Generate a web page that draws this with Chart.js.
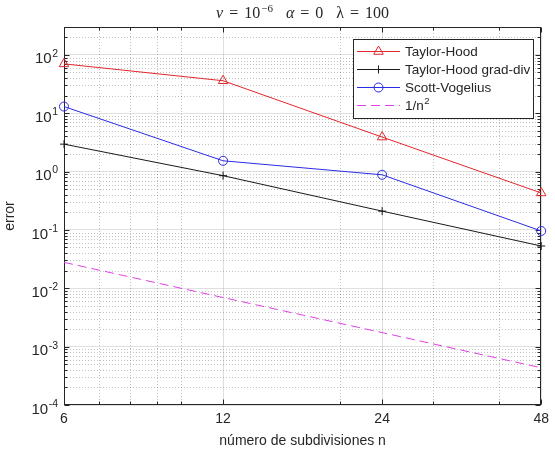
<!DOCTYPE html>
<html>
<head>
<meta charset="utf-8">
<script src="https://cdn.jsdelivr.net/npm/chart.js@4.4.1/dist/chart.umd.min.js"></script>
<style>
  html, body { margin: 0; padding: 0; background: #fff; }
  #wrap { width: 555px; height: 456px; }
</style>
</head>
<body>
<div id="wrap"><canvas id="myChart" width="555" height="456"></canvas></div>
<script>
// datos del gráfico
const subdivisiones = [6, 12, 24, 48];
const taylorHood = [70, 36, 3.9, 0.43];
const taylorHoodGradDiv = [2.95, 0.85, 0.21, 0.053];
const scottVogelius = [13, 1.53, 0.88, 0.096];
const referencia = [0.0278, 0.00694, 0.00174, 0.000434]; // 1/n^2

// marcas de los ejes
const xTicks = [6, 12, 24, 48];
const xMinor = [7, 8, 9, 10, 20, 30, 40];
const yExp = [-4, -3, -2, -1, 0, 1, 2];
const yMin = 1e-4;
const yMax = 300;

const yTicks = yExp.map((e) => Math.pow(10, e));
const yMinor = [];
yExp.forEach((e) => {
  for (let k = 2; k <= 9; k++) {
    const v = k * Math.pow(10, e);
    if (v < yMax) yMinor.push(v);
  }
});

const FONT = "'Liberation Sans', Arial, sans-serif";
const SERIF = "'Liberation Serif', 'DejaVu Serif', serif";
const AXIS = "#262626";

function pts(ys) {
  return subdivisiones.map((x, i) => ({ x: x, y: ys[i] }));
}

// ejes al estilo MATLAB: rejilla menor, caja, marcas, etiquetas, título y leyenda
const matlabAxes = {
  id: "matlabAxes",
  beforeDatasetsDraw(chart) {
    const { ctx, chartArea: a, scales } = chart;
    const xs = scales.x, ys = scales.y;
    ctx.save();
    // rejilla menor punteada
    ctx.strokeStyle = "rgba(38,38,38,0.28)";
    ctx.lineWidth = 1;
    ctx.setLineDash([1, 2]);
    xMinor.forEach((v) => {
      const px = Math.round(xs.getPixelForValue(v)) + 0.5;
      ctx.beginPath();
      ctx.moveTo(px, a.top);
      ctx.lineTo(px, a.bottom);
      ctx.stroke();
    });
    yMinor.forEach((v) => {
      const py = Math.round(ys.getPixelForValue(v)) + 0.5;
      ctx.beginPath();
      ctx.moveTo(a.left, py);
      ctx.lineTo(a.right, py);
      ctx.stroke();
    });
    ctx.setLineDash([]);

    // caja
    ctx.strokeStyle = AXIS;
    ctx.lineWidth = 1;
    const L = Math.round(a.left) + 0.5, R = Math.round(a.right) - 0.5;
    const T = Math.round(a.top) + 0.5, B = Math.round(a.bottom) - 0.5;
    ctx.strokeRect(L, T, R - L, B - T);

    // marcas hacia dentro
    ctx.beginPath();
    const tick = (list, len) => {
      list.forEach((v) => {
        const px = Math.round(xs.getPixelForValue(v)) + 0.5;
        ctx.moveTo(px, B); ctx.lineTo(px, B - len);
        ctx.moveTo(px, T); ctx.lineTo(px, T + len);
      });
    };
    const tickY = (list, len) => {
      list.forEach((v) => {
        const py = Math.round(ys.getPixelForValue(v)) + 0.5;
        ctx.moveTo(L, py); ctx.lineTo(L + len, py);
        ctx.moveTo(R, py); ctx.lineTo(R - len, py);
      });
    };
    tick(xTicks, 5);
    tick(xMinor, 3);
    tickY(yTicks, 5);
    tickY(yMinor, 3);
    ctx.stroke();
    ctx.restore();
  },
  afterDraw(chart) {
    const { ctx, chartArea: a, scales } = chart;
    const ys = scales.y;
    ctx.save();
    ctx.fillStyle = AXIS;

    // etiquetas del eje y: 10^e
    yExp.forEach((e, i) => {
      const py = ys.getPixelForValue(yTicks[i]);
      const xr = a.left - 6;
      ctx.font = "10.5px " + FONT;
      const expText = String(e);
      const ew = ctx.measureText(expText).width;
      ctx.textBaseline = "middle";
      ctx.textAlign = "left";
      ctx.fillText(expText, xr - ew, py - 1);
      ctx.font = "15px " + FONT;
      ctx.textAlign = "right";
      ctx.fillText("10", xr - ew - 0.5, py + 4.5);
    });

    // título con símbolos (gap = espacio antes de cada pieza)
    const parts = [
      { t: "ν", f: "italic 16px " + SERIF, gap: 0 },
      { t: "=", f: "16px " + SERIF, gap: 6 },
      { t: "10", f: "16px " + SERIF, gap: 6 },
      { t: "−6", f: "11px " + SERIF, gap: 1, sup: true },
      { t: "α", f: "italic 16px " + SERIF, gap: 13 },
      { t: "=", f: "16px " + SERIF, gap: 6 },
      { t: "0", f: "16px " + SERIF, gap: 6 },
      { t: "λ", f: "16px " + SERIF, gap: 13 },
      { t: "=", f: "16px " + SERIF, gap: 6 },
      { t: "100", f: "16px " + SERIF, gap: 6 },
    ];
    let total = 0;
    parts.forEach((p) => { ctx.font = p.f; p.w = ctx.measureText(p.t).width; total += p.w + p.gap; });
    let tx = (a.left + a.right) / 2 - total / 2;
    ctx.textAlign = "left";
    ctx.textBaseline = "alphabetic";
    parts.forEach((p) => {
      ctx.font = p.f;
      tx += p.gap;
      ctx.fillText(p.t, tx, p.sup ? 12 : 18);
      tx += p.w;
    });

    // leyenda
    const box = { x: 353, y: 39, w: 180, h: 79 };
    ctx.fillStyle = "#fff";
    ctx.fillRect(box.x, box.y, box.w, box.h);
    ctx.strokeStyle = AXIS;
    ctx.lineWidth = 1;
    ctx.strokeRect(box.x + 0.5, box.y + 0.5, box.w, box.h);
    const rowY = [51, 69, 87, 105];
    chart.data.datasets.forEach((ds, i) => {
      const y = rowY[i] + 0.5;
      ctx.strokeStyle = ds.borderColor;
      ctx.lineWidth = 1;
      ctx.setLineDash(ds.borderDash || []);
      ctx.beginPath();
      ctx.moveTo(357, y);
      ctx.lineTo(400, y);
      ctx.stroke();
      ctx.setLineDash([]);
      if (ds.pointRadius > 0) {
        ctx.fillStyle = "rgba(0,0,0,0)";
        Chart.helpers.drawPoint(ctx, {
          pointStyle: ds.pointStyle,
          radius: ds.pointRadius,
          borderWidth: 1,
          rotation: 0,
        }, 378.5, y);
      }
      ctx.fillStyle = AXIS;
      ctx.font = "13.5px " + FONT;
      ctx.textBaseline = "middle";
      ctx.textAlign = "left";
      ctx.fillText(ds.label, 405, y + 1);
      if (ds.supLabel) {
        const w = ctx.measureText(ds.label).width;
        ctx.font = "9.5px " + FONT;
        ctx.fillText(ds.supLabel, 405 + w + 0.5, y - 4);
      }
    });
    ctx.restore();
  },
};

const ctx = document.getElementById("myChart").getContext("2d");
const myChart = new Chart(ctx, {
  type: "line",
  data: {
    datasets: [
      {
        label: "Taylor-Hood",
        data: pts(taylorHood),
        borderColor: "#e3262b",
        pointStyle: "triangle",
        pointRadius: 5.5,
        pointBorderColor: "#e3262b",
        pointBackgroundColor: "rgba(0,0,0,0)",
      },
      {
        label: "Taylor-Hood grad-div",
        data: pts(taylorHoodGradDiv),
        borderColor: "#1a1a1a",
        pointStyle: "cross",
        pointRadius: 4,
        pointBorderColor: "#1a1a1a",
        pointBackgroundColor: "rgba(0,0,0,0)",
      },
      {
        label: "Scott-Vogelius",
        data: pts(scottVogelius),
        borderColor: "#2b2be6",
        pointStyle: "circle",
        pointRadius: 4.5,
        pointBorderColor: "#2b2be6",
        pointBackgroundColor: "rgba(0,0,0,0)",
      },
      {
        label: "1/n",
        supLabel: "2",
        data: pts(referencia),
        borderColor: "#e040e6",
        borderDash: [9, 5],
        pointRadius: 0,
      },
    ],
  },
  options: {
    responsive: false,
    animation: false,
    clip: false,
    layout: { padding: { top: 27, right: 9, left: 0, bottom: 0 } },
    elements: {
      line: { borderWidth: 1, tension: 0, fill: false },
      point: { borderWidth: 1, hoverRadius: 5 },
    },
    plugins: {
      legend: { display: false },
      tooltip: { enabled: false },
    },
    scales: {
      x: {
        type: "logarithmic",
        min: 6,
        max: 48,
        afterBuildTicks: (s) => { s.ticks = xTicks.map((v) => ({ value: v })); },
        afterFit: (s) => { s.height = 51; },
        grid: { color: "rgba(38,38,38,0.14)", drawTicks: false },
        border: { display: false },
        ticks: {
          color: AXIS,
          font: { family: FONT, size: 14 },
          padding: 6,
          maxRotation: 0,
          autoSkip: false,
          callback: (v) => String(v),
        },
        title: {
          display: true,
          text: "número de subdivisiones n",
          color: AXIS,
          font: { family: FONT, size: 14 },
          padding: { top: 0, bottom: 6 },
        },
      },
      y: {
        type: "logarithmic",
        min: yMin,
        max: yMax,
        afterBuildTicks: (s) => { s.ticks = yTicks.map((v) => ({ value: v })); },
        afterFit: (s) => { s.width = 64; },
        grid: { color: "rgba(38,38,38,0.14)", drawTicks: false },
        border: { display: false },
        ticks: { display: false },
        title: {
          display: true,
          text: "error",
          color: AXIS,
          font: { family: FONT, size: 14 },
          padding: { top: 2, bottom: 0 },
        },
      },
    },
  },
  plugins: [matlabAxes],
});
</script>
</body>
</html>
